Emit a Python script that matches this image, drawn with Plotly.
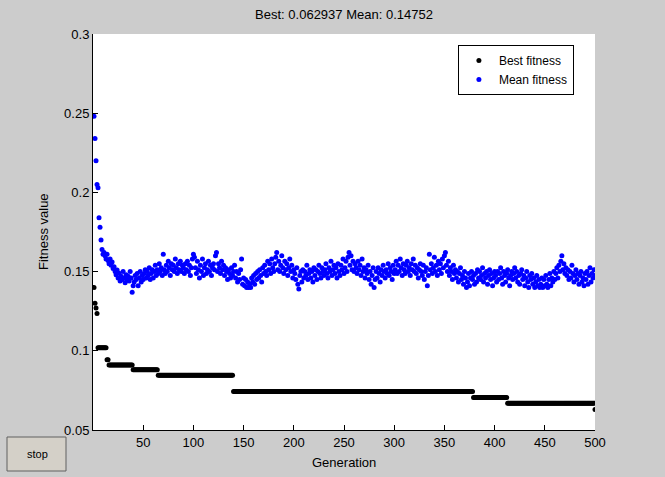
import plotly.graph_objects as go

generations = list(range(1, 501))

best_fitness = (
    [0.140, 0.130, 0.127, 0.1235]
    + [0.102] * 9
    + [0.0943] * 2
    + [0.0911] * 24
    + [0.0880] * 25
    + [0.0846] * 75
    + [0.0743] * 239
    + [0.0705] * 34
    + [0.0669] * 87
    + [0.062937]
)

mean_fitness = [
    0.248, 0.234, 0.220, 0.205, 0.203, 0.184, 0.178, 0.170, 0.164, 0.161,
    0.162, 0.160, 0.158, 0.161, 0.157, 0.155, 0.158, 0.154, 0.156, 0.152,
    0.153, 0.150, 0.148, 0.151, 0.146, 0.149, 0.144, 0.147, 0.145, 0.150,
    0.146, 0.143, 0.148, 0.145, 0.147, 0.144, 0.150, 0.146, 0.137, 0.141,
    0.1435, 0.1475, 0.145, 0.1488, 0.141, 0.146, 0.150, 0.1435, 0.1475, 0.145,
    0.1488, 0.1512, 0.146, 0.150, 0.1475, 0.1525, 0.145, 0.1488, 0.1512, 0.146,
    0.150, 0.154, 0.1475, 0.1512, 0.1488, 0.155, 0.150, 0.1525, 0.1475, 0.161,
    0.1512, 0.1488, 0.154, 0.150, 0.1565, 0.1525, 0.1475, 0.155, 0.1512, 0.154,
    0.150, 0.158, 0.1525, 0.1488, 0.155, 0.1512, 0.1565, 0.150, 0.154, 0.1525,
    0.1488, 0.155, 0.1512, 0.1565, 0.150, 0.154, 0.1475, 0.1525, 0.158, 0.161,
    0.159, 0.1525, 0.1488, 0.1565, 0.1512, 0.146, 0.154, 0.150, 0.158, 0.1475,
    0.1525, 0.155, 0.1488, 0.1512, 0.1565, 0.150, 0.154, 0.1475, 0.1525, 0.155,
    0.1512, 0.160, 0.162, 0.150, 0.155, 0.1525, 0.1488, 0.1565, 0.1512, 0.154,
    0.1475, 0.1525, 0.150, 0.145, 0.1512, 0.1488, 0.146, 0.1525, 0.1475, 0.150,
    0.154, 0.146, 0.150, 0.1435, 0.1488, 0.145, 0.1512, 0.158, 0.142, 0.146,
    0.141, 0.145, 0.140, 0.1435, 0.140, 0.142, 0.140, 0.146, 0.1435, 0.1475,
    0.142, 0.1488, 0.145, 0.150, 0.146, 0.1512, 0.1475, 0.1435, 0.1525, 0.1488,
    0.154, 0.150, 0.1475, 0.1565, 0.1512, 0.155, 0.1488, 0.158, 0.1525, 0.150,
    0.155, 0.159, 0.162, 0.1512, 0.1565, 0.150, 0.154, 0.160, 0.1525, 0.1488,
    0.1565, 0.1512, 0.155, 0.1475, 0.1525, 0.158, 0.150, 0.154, 0.146, 0.1512,
    0.1488, 0.145, 0.1525, 0.142, 0.139, 0.1475, 0.150, 0.1435, 0.1512, 0.146,
    0.150, 0.1475, 0.154, 0.145, 0.1488, 0.1512, 0.146, 0.150, 0.1435, 0.1525,
    0.1475, 0.1512, 0.145, 0.150, 0.154, 0.1488, 0.146, 0.1525, 0.150, 0.1475,
    0.1512, 0.155, 0.1488, 0.146, 0.1525, 0.150, 0.1565, 0.1475, 0.1512, 0.154,
    0.1488, 0.1525, 0.146, 0.155, 0.150, 0.1475, 0.154, 0.1512, 0.158, 0.1488,
    0.1525, 0.1565, 0.150, 0.159, 0.162, 0.154, 0.160, 0.1512, 0.1565, 0.150,
    0.155, 0.1525, 0.1488, 0.1565, 0.1512, 0.154, 0.1475, 0.158, 0.150, 0.1525,
    0.146, 0.1512, 0.1488, 0.154, 0.145, 0.150, 0.142, 0.1475, 0.1525, 0.140,
    0.145, 0.150, 0.146, 0.1525, 0.1488, 0.1435, 0.1512, 0.1475, 0.154, 0.150,
    0.146, 0.1512, 0.1488, 0.155, 0.1475, 0.1525, 0.150, 0.145, 0.154, 0.1488,
    0.1512, 0.1565, 0.1488, 0.154, 0.150, 0.158, 0.1525, 0.1475, 0.155, 0.1512,
    0.1488, 0.154, 0.1565, 0.150, 0.1525, 0.1475, 0.155, 0.1512, 0.158, 0.150,
    0.154, 0.1488, 0.1525, 0.146, 0.1512, 0.155, 0.150, 0.1475, 0.154, 0.145,
    0.150, 0.1525, 0.141, 0.1475, 0.161, 0.1512, 0.155, 0.1488, 0.1525, 0.159,
    0.150, 0.154, 0.1475, 0.1565, 0.1512, 0.155, 0.1488, 0.158, 0.1525, 0.160,
    0.162, 0.154, 0.150, 0.1565, 0.1475, 0.1525, 0.150, 0.145, 0.154, 0.1488,
    0.1512, 0.146, 0.150, 0.1435, 0.1488, 0.1525, 0.145, 0.1475, 0.142, 0.150,
    0.146, 0.140, 0.1435, 0.1488, 0.141, 0.146, 0.150, 0.145, 0.1475, 0.142,
    0.1488, 0.1435, 0.1512, 0.146, 0.150, 0.145, 0.1475, 0.1525, 0.1435, 0.1488,
    0.146, 0.150, 0.142, 0.1475, 0.1512, 0.145, 0.1488, 0.141, 0.146, 0.150,
    0.1475, 0.1435, 0.150, 0.145, 0.1488, 0.1525, 0.146, 0.142, 0.150, 0.1475,
    0.1435, 0.1488, 0.1512, 0.146, 0.141, 0.1475, 0.150, 0.145, 0.1488, 0.1525,
    0.146, 0.150, 0.1435, 0.1475, 0.142, 0.1488, 0.1512, 0.145, 0.1475, 0.141,
    0.146, 0.150, 0.1435, 0.140, 0.1475, 0.145, 0.1488, 0.142, 0.146, 0.140,
    0.1435, 0.1475, 0.141, 0.145, 0.140, 0.142, 0.146, 0.140, 0.145, 0.141,
    0.1475, 0.142, 0.140, 0.145, 0.1488, 0.141, 0.146, 0.1435, 0.150, 0.145,
    0.1488, 0.1525, 0.146, 0.154, 0.150, 0.1565, 0.160, 0.1512, 0.155, 0.1488,
    0.1525, 0.1475, 0.1512, 0.145, 0.150, 0.146, 0.154, 0.1488, 0.1435, 0.1475,
    0.1512, 0.145, 0.1488, 0.142, 0.1475, 0.150, 0.1435, 0.146, 0.141, 0.1488,
    0.145, 0.150, 0.142, 0.1475, 0.1525, 0.1435, 0.1488, 0.146, 0.1512, 0.14752,
]

x_ticks = [50, 100, 150, 200, 250, 300, 350, 400, 450, 500]
y_ticks = [0.05, 0.1, 0.15, 0.2, 0.25, 0.3]
y_tick_text = ["0.05", "0.1", "0.15", "0.2", "0.25", "0.3"]

FONT = "Liberation Sans, Arial, sans-serif"

fig = go.Figure()
fig.add_trace(go.Scatter(
    x=generations, y=best_fitness, mode="markers", name="Best fitness",
    marker=dict(color="black", size=5, line=dict(width=0)),
))
fig.add_trace(go.Scatter(
    x=generations, y=mean_fitness, mode="markers", name="Mean fitness",
    marker=dict(color="#0000ff", size=5, line=dict(width=0)),
))

fig.update_layout(
    width=665, height=477,
    margin=dict(l=93, r=70, t=34, b=47),
    paper_bgcolor="#cccccc",
    plot_bgcolor="white",
    font=dict(family=FONT, size=13, color="black"),
    title=dict(text="Best: 0.062937 Mean: 0.14752", x=0.5, xref="paper",
               y=1 - 14 / 477, yref="container", yanchor="middle",
               font=dict(size=13, color="black")),
    showlegend=True,
    legend=dict(x=0.958, y=0.972, xanchor="right", yanchor="top",
                bgcolor="white", bordercolor="black", borderwidth=1,
                font=dict(size=12), itemsizing="trace", tracegroupgap=0),
    xaxis=dict(range=[0, 500], tickvals=x_ticks, ticks="inside", ticklen=5,
               tickcolor="black", showline=True, linecolor="black", linewidth=1,
               showgrid=False, zeroline=False, mirror=False,
               tickfont=dict(size=13)),
    yaxis=dict(range=[0.05, 0.3], tickvals=y_ticks, ticktext=y_tick_text,
               ticks="inside", ticklen=5, tickcolor="black", showline=True,
               linecolor="black", linewidth=1, showgrid=False, zeroline=False,
               mirror=False, tickfont=dict(size=13)),
    annotations=[
        dict(text="Generation", x=0.5, y=(430 - 462) / 396, xref="paper", yref="paper",
             showarrow=False, xanchor="center", yanchor="middle", font=dict(size=13)),
        dict(text="Fitness value", x=(43 - 93) / 502, y=0.5, xref="paper", yref="paper",
             showarrow=False, textangle=-90, xanchor="center", yanchor="middle",
             font=dict(size=13)),
        dict(text="stop", x=(37 - 93) / 502, y=(430 - 454) / 396, xref="paper", yref="paper",
             showarrow=False, xanchor="center", yanchor="middle", font=dict(size=11)),
    ],
    shapes=[
        dict(type="rect", xref="paper", yref="paper",
             x0=(7 - 93) / 502, x1=(66 - 93) / 502,
             y0=(430 - 471) / 396, y1=(430 - 437) / 396,
             fillcolor="#d4d0c8", line=dict(color="#606060", width=1), layer="above"),
    ],
)

fig.write_html(
    "out.html",
    config={"displayModeBar": False},
    post_script="document.body.style.margin='0';document.body.style.padding='0';"
                "document.body.style.overflow='hidden';document.body.style.background='#cccccc';",
)
